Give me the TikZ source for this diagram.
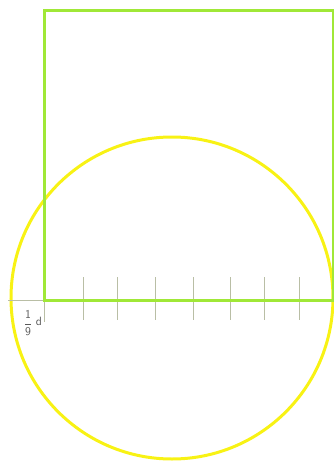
\documentclass[tikz,border=0pt]{standalone}
\usepackage{amsmath}
\definecolor{sqgreen}{RGB}{160,232,55}
\definecolor{circyel}{RGB}{248,242,20}
\definecolor{tickgray}{RGB}{185,190,165}
\begin{document}
\begin{tikzpicture}[x=1pt,y=-1pt,
  sq/.style={draw=sqgreen,line width=3pt},
  circ/.style={draw=circyel,line width=3pt},
  tick/.style={draw=tickgray,line width=1pt},
  lbl/.style={font=\sffamily\large,text=black!65,inner sep=0pt}]
\useasboundingbox (0,0) rectangle (334,461);
\coordinate (A) at (44,300);
\coordinate (B) at (333,300);
\coordinate (C) at (333,10);
\coordinate (D) at (44,10);
\coordinate (L) at (8,300);
\node[circle,circ,minimum size=322pt,inner sep=0pt] (cir) at (172,298) {};
\draw[tick] (L) -- (A);
\draw[tick] (44,300) -- (44,322);
\foreach \x in {83,117,155,193,230,264,299}{
  \draw[tick] (\x,277) -- (\x,320);
}
\draw[sq] (A) -- (B) -- (C) -- (D) -- cycle;
\node[lbl] (frac) at (28,323) {$\dfrac{\mathsf{1}}{\mathsf{9}}$};
\node[lbl] (d) at (39,321) {d};
\end{tikzpicture}
\end{document}
